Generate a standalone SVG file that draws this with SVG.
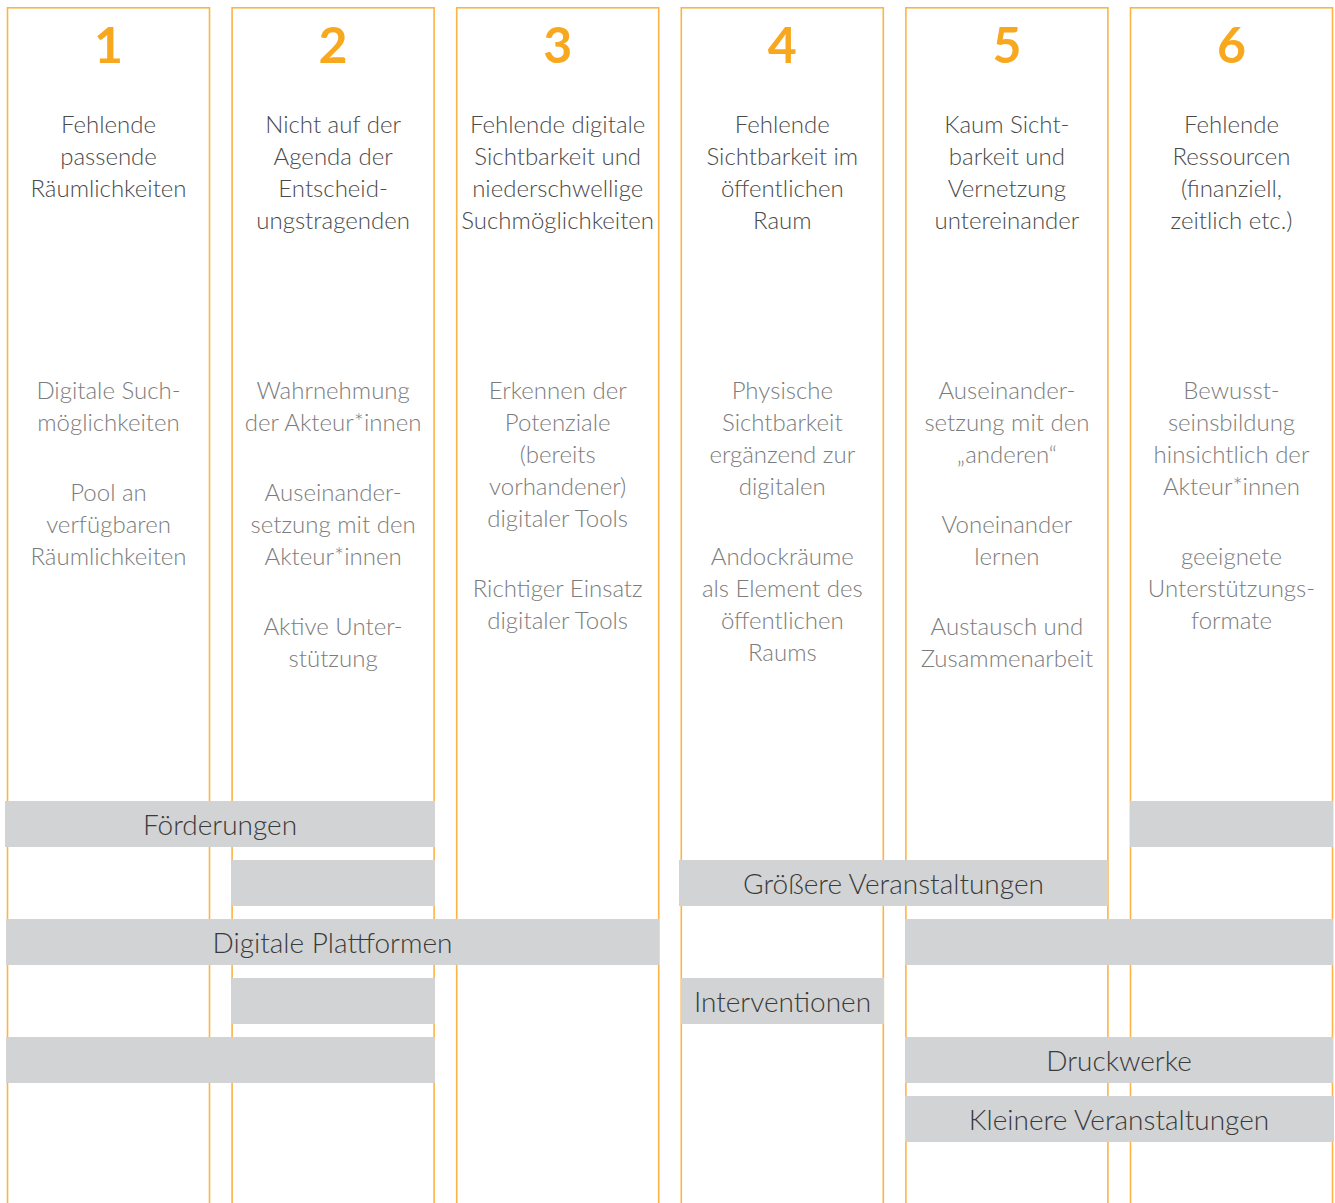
<svg xmlns="http://www.w3.org/2000/svg" width="1335" height="1203" viewBox="0 0 1335 1203">
  <style>
    .col { fill: #ffffff; stroke: #fbb445; stroke-width: 1.6; }
    .num { font-family: Lato, "Liberation Sans", sans-serif; font-weight: 700; font-size: 50px; fill: #f8a81e; text-anchor: middle; }
    .title { font-family: Lato, "Liberation Sans", sans-serif; font-weight: 300; font-size: 24px; fill: #4a4a4a; text-anchor: middle; }
    .sub { font-family: Lato, "Liberation Sans", sans-serif; font-weight: 300; font-size: 24px; fill: #7c7c7c; text-anchor: middle; }
    .bar { fill: #d1d3d4; }
    .barlabel { font-family: Lato, "Liberation Sans", sans-serif; font-weight: 300; font-size: 28px; fill: #3a3a3a; text-anchor: middle; }
  </style>

  <!-- columns: one per problem field -->
  <g id="col1">
    <rect class="col" x="7.5" y="7.8" width="202" height="1220"/>
    <text class="num" x="108.5" y="63">1</text>
    <text class="title"><tspan x="108.5" y="133">Fehlende</tspan><tspan x="108.5" y="165">passende</tspan><tspan x="108.5" y="197">Räumlichkeiten</tspan></text>
    <text class="sub"><tspan x="108.5" y="399">Digitale Such-</tspan><tspan x="108.5" y="431">möglichkeiten</tspan><tspan x="108.5" y="501">Pool an</tspan><tspan x="108.5" y="533">verfügbaren</tspan><tspan x="108.5" y="565">Räumlichkeiten</tspan></text>
  </g>

  <g id="col2">
    <rect class="col" x="232.1" y="7.8" width="202" height="1220"/>
    <text class="num" x="333.1" y="63">2</text>
    <text class="title"><tspan x="333.1" y="133">Nicht auf der</tspan><tspan x="333.1" y="165">Agenda der</tspan><tspan x="333.1" y="197">Entscheid-</tspan><tspan x="333.1" y="229">ungstragenden</tspan></text>
    <text class="sub"><tspan x="333.1" y="399">Wahrnehmung</tspan><tspan x="333.1" y="431">der Akteur*innen</tspan><tspan x="333.1" y="501">Auseinander-</tspan><tspan x="333.1" y="533">setzung mit den</tspan><tspan x="333.1" y="565">Akteur*innen</tspan><tspan x="333.1" y="635">Aktive Unter-</tspan><tspan x="333.1" y="667">stützung</tspan></text>
  </g>

  <g id="col3">
    <rect class="col" x="456.7" y="7.8" width="202" height="1220"/>
    <text class="num" x="557.7" y="63">3</text>
    <text class="title"><tspan x="557.7" y="133">Fehlende digitale</tspan><tspan x="557.7" y="165">Sichtbarkeit und</tspan><tspan x="557.7" y="197">niederschwellige</tspan><tspan x="557.7" y="229">Suchmöglichkeiten</tspan></text>
    <text class="sub"><tspan x="557.7" y="399">Erkennen der</tspan><tspan x="557.7" y="431">Potenziale</tspan><tspan x="557.7" y="463">(bereits</tspan><tspan x="557.7" y="495">vorhandener)</tspan><tspan x="557.7" y="527">digitaler Tools</tspan><tspan x="557.7" y="597">Richtiger Einsatz</tspan><tspan x="557.7" y="629">digitaler Tools</tspan></text>
  </g>

  <g id="col4">
    <rect class="col" x="681.3" y="7.8" width="202" height="1220"/>
    <text class="num" x="782.3" y="63">4</text>
    <text class="title"><tspan x="782.3" y="133">Fehlende</tspan><tspan x="782.3" y="165">Sichtbarkeit im</tspan><tspan x="782.3" y="197">öffentlichen</tspan><tspan x="782.3" y="229">Raum</tspan></text>
    <text class="sub"><tspan x="782.3" y="399">Physische</tspan><tspan x="782.3" y="431">Sichtbarkeit</tspan><tspan x="782.3" y="463">ergänzend zur</tspan><tspan x="782.3" y="495">digitalen</tspan><tspan x="782.3" y="565">Andockräume</tspan><tspan x="782.3" y="597">als Element des</tspan><tspan x="782.3" y="629">öffentlichen</tspan><tspan x="782.3" y="661">Raums</tspan></text>
  </g>

  <g id="col5">
    <rect class="col" x="905.9" y="7.8" width="202" height="1220"/>
    <text class="num" x="1006.9" y="63">5</text>
    <text class="title"><tspan x="1006.9" y="133">Kaum Sicht-</tspan><tspan x="1006.9" y="165">barkeit und</tspan><tspan x="1006.9" y="197">Vernetzung</tspan><tspan x="1006.9" y="229">untereinander</tspan></text>
    <text class="sub"><tspan x="1006.9" y="399">Auseinander-</tspan><tspan x="1006.9" y="431">setzung mit den</tspan><tspan x="1006.9" y="463">„anderen“</tspan><tspan x="1006.9" y="533">Voneinander</tspan><tspan x="1006.9" y="565">lernen</tspan><tspan x="1006.9" y="635">Austausch und</tspan><tspan x="1006.9" y="667">Zusammenarbeit</tspan></text>
  </g>

  <g id="col6">
    <rect class="col" x="1130.5" y="7.8" width="202" height="1220"/>
    <text class="num" x="1231.5" y="63">6</text>
    <text class="title"><tspan x="1231.5" y="133">Fehlende</tspan><tspan x="1231.5" y="165">Ressourcen</tspan><tspan x="1231.5" y="197">(finanziell,</tspan><tspan x="1231.5" y="229">zeitlich etc.)</tspan></text>
    <text class="sub"><tspan x="1231.5" y="399">Bewusst-</tspan><tspan x="1231.5" y="431">seinsbildung</tspan><tspan x="1231.5" y="463">hinsichtlich der</tspan><tspan x="1231.5" y="495">Akteur*innen</tspan><tspan x="1231.5" y="565">geeignete</tspan><tspan x="1231.5" y="597">Unterstützungs-</tspan><tspan x="1231.5" y="629">formate</tspan></text>
  </g>

  <!-- measure bars spanning the columns they address -->
  <g id="bar-foerderungen">
    <rect class="bar" x="5" y="801" width="430" height="46"/>
    <rect class="bar" x="1130" y="801" width="203" height="46"/>
    <text class="barlabel" x="220" y="835">Förderungen</text>
  </g>

  <g id="bar-groessere-veranstaltungen">
    <rect class="bar" x="231" y="860" width="204" height="46"/>
    <rect class="bar" x="679" y="860" width="429" height="46"/>
    <text class="barlabel" x="893.5" y="894">Größere Veranstaltungen</text>
  </g>

  <g id="bar-digitale-plattformen">
    <rect class="bar" x="6" y="919" width="653" height="46"/>
    <rect class="bar" x="905" y="919" width="428" height="46"/>
    <text class="barlabel" x="332.5" y="953">Digitale Plattformen</text>
  </g>

  <g id="bar-interventionen">
    <rect class="bar" x="231" y="978" width="204" height="46"/>
    <rect class="bar" x="681" y="978" width="203" height="46"/>
    <text class="barlabel" x="782.5" y="1012">Interventionen</text>
  </g>

  <g id="bar-druckwerke">
    <rect class="bar" x="6" y="1037" width="429" height="46"/>
    <rect class="bar" x="905" y="1037" width="428" height="46"/>
    <text class="barlabel" x="1119" y="1071">Druckwerke</text>
  </g>

  <g id="bar-kleinere-veranstaltungen">
    <rect class="bar" x="905" y="1096" width="429" height="46"/>
    <text class="barlabel" x="1119" y="1130">Kleinere Veranstaltungen</text>
  </g>

  <g id="connectors"/>
</svg>
